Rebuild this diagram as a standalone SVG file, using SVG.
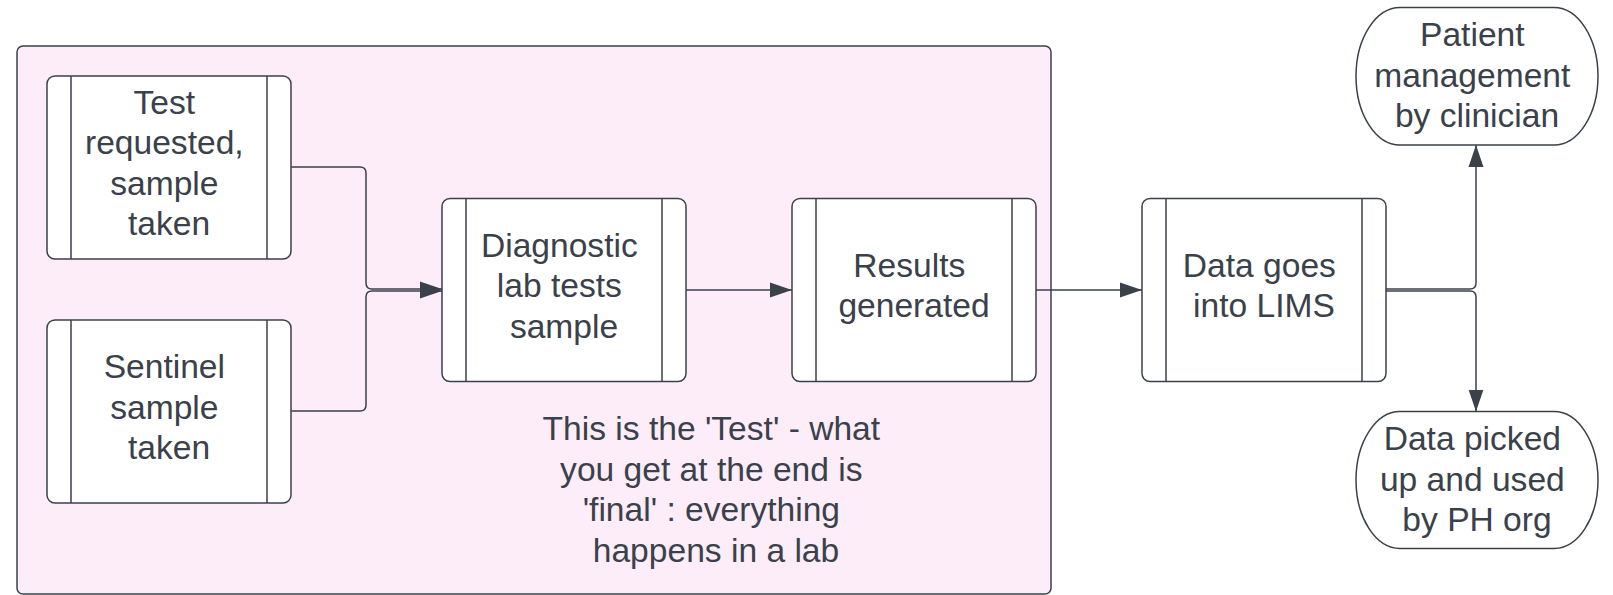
<svg xmlns="http://www.w3.org/2000/svg" width="1613" height="595" viewBox="0 0 1613 595">
  <style>
    .frame { fill: #fdedf9; stroke: #3a414a; stroke-width: 1.5; }
    .box { fill: #ffffff; stroke: #3a414a; stroke-width: 1.5; }
    .bar { stroke: #3a414a; stroke-width: 1.5; }
    .edge { fill: none; stroke: #3a414a; stroke-width: 1.5; }
    .lbl { font-family: "Liberation Sans", Arial, sans-serif; font-size: 33.6px; fill: #3a414a; text-anchor: middle; }
  </style>
  <defs>
    <marker id="arrow" markerUnits="userSpaceOnUse" markerWidth="24" markerHeight="16" refX="22" refY="8" orient="auto">
      <path d="M0,0.5 L22,8 L0,15.5 Z" fill="#3a414a"/>
    </marker>
  </defs>

  <!-- lab boundary -->
  <g id="lab-area">
    <rect class="frame" x="17" y="46" width="1034" height="548" rx="6"/>
    <text class="lbl">
      <tspan x="716" y="440">This is the 'Test' - what</tspan>
      <tspan x="716" y="480.5">you get at the end is</tspan>
      <tspan x="716" y="521">'final' : everything</tspan>
      <tspan x="716" y="561.5">happens in a lab</tspan>
    </text>
  </g>

  <!-- connectors -->
  <g id="connectors">
    <path class="edge" d="M291,167 H360 Q366,167 366,173 V283 Q366,289 372,289 H442" marker-end="url(#arrow)"/>
    <path class="edge" d="M291,411 H360 Q366,411 366,405 V297 Q366,291 372,291 H442" marker-end="url(#arrow)"/>
    <path class="edge" d="M686,290 H792" marker-end="url(#arrow)"/>
    <path class="edge" d="M1036,290 H1142" marker-end="url(#arrow)"/>
    <path class="edge" d="M1386,289 H1470 Q1476,289 1476,283 V145" marker-end="url(#arrow)"/>
    <path class="edge" d="M1386,291 H1470 Q1476,291 1476,297 V411.5" marker-end="url(#arrow)"/>
  </g>

  <g id="test-requested">
    <rect class="box" x="47" y="76" width="244" height="183" rx="8"/>
    <line class="bar" x1="71" y1="76" x2="71" y2="259"/>
    <line class="bar" x1="267" y1="76" x2="267" y2="259"/>
    <text class="lbl">
      <tspan x="169" y="113.5">Test</tspan>
      <tspan x="169" y="154">requested,</tspan>
      <tspan x="169" y="194.5">sample</tspan>
      <tspan x="169" y="235">taken</tspan>
    </text>
  </g>

  <g id="sentinel-sample">
    <rect class="box" x="47" y="320" width="244" height="183" rx="8"/>
    <line class="bar" x1="71" y1="320" x2="71" y2="503"/>
    <line class="bar" x1="267" y1="320" x2="267" y2="503"/>
    <text class="lbl">
      <tspan x="169" y="378">Sentinel</tspan>
      <tspan x="169" y="418.5">sample</tspan>
      <tspan x="169" y="459">taken</tspan>
    </text>
  </g>

  <g id="diagnostic-tests">
    <rect class="box" x="442" y="198.5" width="244" height="183" rx="8"/>
    <line class="bar" x1="466" y1="198.5" x2="466" y2="381.5"/>
    <line class="bar" x1="662" y1="198.5" x2="662" y2="381.5"/>
    <text class="lbl">
      <tspan x="564" y="256.5">Diagnostic</tspan>
      <tspan x="564" y="297">lab tests</tspan>
      <tspan x="564" y="337.5">sample</tspan>
    </text>
  </g>

  <g id="results-generated">
    <rect class="box" x="792" y="198.5" width="244" height="183" rx="8"/>
    <line class="bar" x1="816" y1="198.5" x2="816" y2="381.5"/>
    <line class="bar" x1="1012" y1="198.5" x2="1012" y2="381.5"/>
    <text class="lbl">
      <tspan x="914" y="276.5">Results</tspan>
      <tspan x="914" y="317">generated</tspan>
    </text>
  </g>

  <g id="lims">
    <rect class="box" x="1142" y="198.5" width="244" height="183" rx="8"/>
    <line class="bar" x1="1166" y1="198.5" x2="1166" y2="381.5"/>
    <line class="bar" x1="1362" y1="198.5" x2="1362" y2="381.5"/>
    <text class="lbl">
      <tspan x="1264" y="276.5">Data goes</tspan>
      <tspan x="1264" y="317">into LIMS</tspan>
    </text>
  </g>

  <g id="patient-management">
    <rect class="box" x="1356" y="7.5" width="242" height="137.5" rx="44" ry="68.75"/>
    <text class="lbl">
      <tspan x="1477" y="46">Patient</tspan>
      <tspan x="1477" y="86.5">management</tspan>
      <tspan x="1477" y="127">by clinician</tspan>
    </text>
  </g>

  <g id="ph-org">
    <rect class="box" x="1356" y="411.5" width="242" height="137" rx="44" ry="68.5"/>
    <text class="lbl">
      <tspan x="1477" y="450">Data picked</tspan>
      <tspan x="1477" y="490.5">up and used</tspan>
      <tspan x="1477" y="531">by PH org</tspan>
    </text>
  </g>
</svg>
